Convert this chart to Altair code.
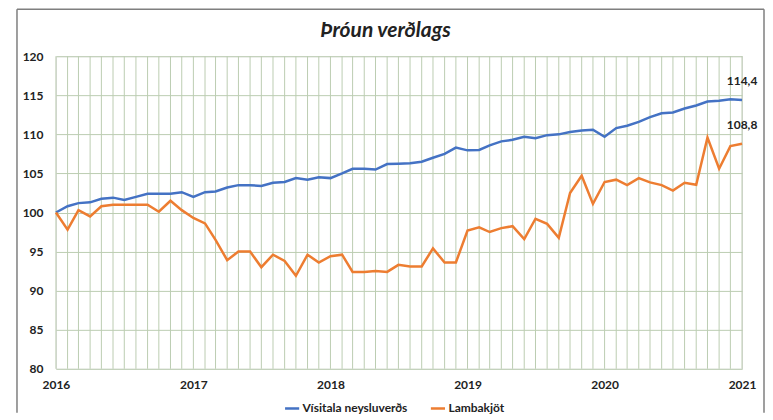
import altair as alt
import pandas as pd

months = pd.date_range("2016-01-01", "2021-01-01", freq="MS")

visitala = [100.0, 100.8, 101.2, 101.3, 101.75, 101.9, 101.6, 102.0, 102.4, 102.4, 102.4, 102.6,
            102.0, 102.6, 102.7, 103.2, 103.5, 103.5, 103.4, 103.8, 103.9, 104.4, 104.2, 104.5,
            104.4, 105.0, 105.6, 105.6, 105.5, 106.2, 106.25, 106.3, 106.5, 107.0, 107.5, 108.3,
            107.95, 108.0, 108.6, 109.1, 109.3, 109.7, 109.5, 109.9, 110.0, 110.3, 110.5, 110.6,
            109.7, 110.8, 111.1, 111.6, 112.2, 112.7, 112.8, 113.3, 113.7, 114.2, 114.3, 114.5,
            114.4]

lambakjot = [100.0, 97.8, 100.3, 99.5, 100.8, 101.0, 101.0, 101.0, 101.0, 100.1, 101.5, 100.3,
             99.3, 98.6, 96.5, 93.9, 95.0, 95.0, 93.0, 94.6, 93.8, 91.9, 94.6, 93.6,
             94.4, 94.6, 92.4, 92.4, 92.5, 92.4, 93.3, 93.1, 93.1, 95.4, 93.6, 93.6,
             97.7, 98.1, 97.5, 98.0, 98.25, 96.6, 99.2, 98.55, 96.75, 102.5, 104.7, 101.1,
             103.9, 104.2, 103.5, 104.4, 103.85, 103.5, 102.8, 103.8, 103.55, 109.6, 105.6, 108.5,
             108.8]

series_names = ["Vísitala neysluverðs", "Lambakjöt"]
series_colors = ["#4472c4", "#ed7d31"]
year_ticks = [2016, 2017, 2018, 2019, 2020, 2021]
y_ticks = [80, 85, 90, 95, 100, 105, 110, 115, 120]
title_text = "Þróun verðlags"

df = pd.concat([
    pd.DataFrame({"date": months, "value": visitala, "series": series_names[0]}),
    pd.DataFrame({"date": months, "value": lambakjot, "series": series_names[1]}),
])
grid_df = pd.DataFrame({"date": months})
last_df = df[df["date"] == months[-1]]

FONT = "Lato"
GRID = "#bccdb2"
FRAME = "#7f7f7f"

x_scale = alt.Scale(domain=[alt.DateTime(year=2016, month=1, date=1),
                            alt.DateTime(year=2021, month=1, date=1)])
x_axis = alt.Axis(values=[alt.DateTime(year=y, month=1, date=1) for y in year_ticks],
                  format="%Y", title=None, grid=False, ticks=False, domain=False,
                  labelFont=FONT, labelFontWeight="bold", labelFontSize=12,
                  labelColor="#222", labelPadding=11, labelFlush=False)
y_scale = alt.Scale(domain=[80, 120], nice=False, zero=False)
y_axis = alt.Axis(values=y_ticks, title=None, grid=True, gridColor=GRID, gridWidth=1,
                  ticks=False, domain=False, labelFont=FONT, labelFontWeight="bold",
                  labelFontSize=12, labelColor="#222", labelPadding=13)

x_enc = alt.X("date:T", scale=x_scale, axis=x_axis)
y_enc = alt.Y("value:Q", scale=y_scale, axis=y_axis)

grid = alt.Chart(grid_df).mark_rule(color=GRID, strokeWidth=1).encode(x=x_enc)

lines = alt.Chart(df).mark_line(strokeWidth=2.5).encode(
    x=x_enc,
    y=y_enc,
    color=alt.Color("series:N",
                    scale=alt.Scale(domain=series_names, range=series_colors),
                    sort=series_names,
                    legend=alt.Legend(title=None, orient="none", legendX=228, legendY=344,
                                      direction="horizontal", symbolType="stroke",
                                      symbolStrokeWidth=2.5, symbolSize=200,
                                      labelFont=FONT, labelFontWeight="bold", labelFontSize=12,
                                      labelColor="#222", columnPadding=18, labelOffset=2)),
)

labels = alt.Chart(last_df).mark_text(font=FONT, fontWeight="bold", fontSize=12, color="#222",
                                      dy=-12, baseline="bottom", align="center").transform_calculate(
    label="replace(format(datum.value, '.1f'), '.', ',')"
).encode(x=x_enc, y=y_enc, text="label:N")

one = pd.DataFrame({"a": [0]})
title = alt.Chart(one).mark_text(font=FONT, fontSize=21, fontStyle="italic", fontWeight="bold",
                                 color="#222", align="center", baseline="middle").encode(
    x=alt.value(330), y=alt.value(-25), text=alt.value(title_text))

frame_top = alt.Chart(one).mark_rule(color=FRAME, strokeWidth=1.5).encode(
    x=alt.value(-39), x2=alt.value(709), y=alt.value(-47))
frame_left = alt.Chart(one).mark_rule(color=FRAME, strokeWidth=1.5).encode(
    x=alt.value(-39), y=alt.value(-47), y2=alt.value(357))
frame_right = alt.Chart(one).mark_rule(color=FRAME, strokeWidth=1.5).encode(
    x=alt.value(709), y=alt.value(-47), y2=alt.value(357))

chart = alt.layer(grid, lines, labels, title, frame_top, frame_left, frame_right).properties(
    width=687, height=313,
    padding={"left": 8, "top": 0, "right": 0, "bottom": 0},
).configure_view(fill="#e2efda", stroke=None).configure(background="white")

chart.save("out.html", embed_options={"renderer": "svg", "actions": False})
